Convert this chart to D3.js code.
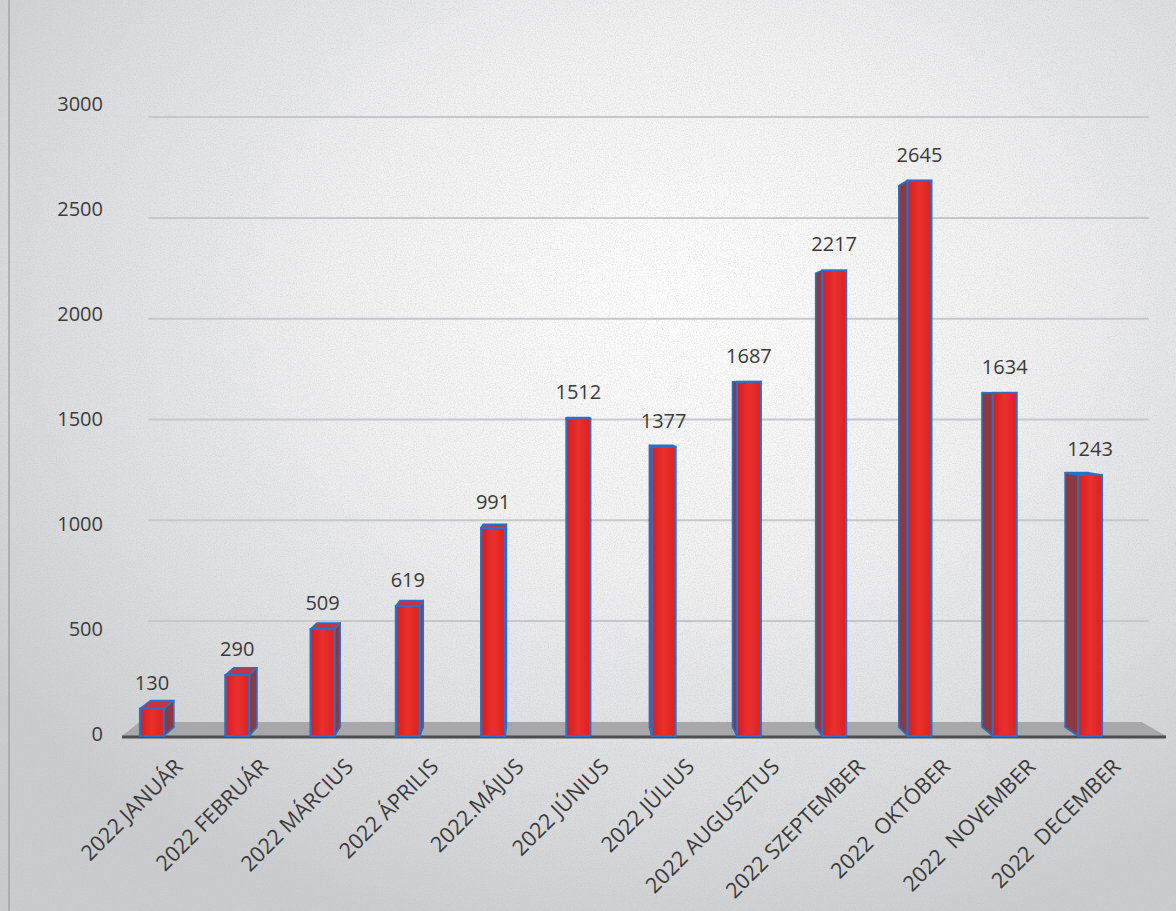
<!DOCTYPE html>
<html>
<head>
<meta charset="utf-8">
<script src="https://cdn.jsdelivr.net/npm/d3@7"></script>
<style>
html,body{margin:0;padding:0;background:#fff;}
svg{display:block;}
text{font-family:"Open Sans","Liberation Sans",sans-serif;}
</style>
</head>
<body>
<svg id="chart" width="1176" height="911"></svg>
<script>
const categories = ["2022 JANUÁR","2022 FEBRUÁR","2022 MÁRCIUS","2022 ÁPRILIS","2022.MÁJUS","2022 JÚNIUS","2022 JÚLIUS","2022 AUGUSZTUS","2022 SZEPTEMBER","2022  OKTÓBER","2022  NOVEMBER","2022  DECEMBER"];
const values = [130, 290, 509, 619, 991, 1512, 1377, 1687, 2217, 2645, 1634, 1243];
const yTicks = [0, 500, 1000, 1500, 2000, 2500, 3000];

const W = 1176, H = 911;
const svg = d3.select("#chart");
const defs = svg.append("defs");

// background
const bg = defs.append("radialGradient").attr("id","bg").attr("cx","0.58").attr("cy","0.33").attr("r","0.72");
bg.append("stop").attr("offset","0").attr("stop-color","#ffffff");
bg.append("stop").attr("offset","0.4").attr("stop-color","#f1f1f2");
bg.append("stop").attr("offset","0.8").attr("stop-color","#d9dadc");
bg.append("stop").attr("offset","1").attr("stop-color","#cbcccf");
const noise = defs.append("filter").attr("id","noise").attr("x",0).attr("y",0).attr("width","100%").attr("height","100%");
noise.append("feTurbulence").attr("type","fractalNoise").attr("baseFrequency","0.85").attr("numOctaves",2).attr("seed",3).attr("result","t");
noise.append("feColorMatrix").attr("in","t").attr("type","matrix")
  .attr("values","0 0 0 0 0.5  0 0 0 0 0.5  0 0 0 0 0.5  0 0 0 -1.6 0.95");
svg.append("rect").attr("width",W).attr("height",H).attr("fill","url(#bg)");
svg.append("rect").attr("width",W).attr("height",H).attr("filter","url(#noise)").attr("opacity",0.45);
svg.append("line").attr("x1",9).attr("x2",9).attr("y1",0).attr("y2",H).attr("stroke","#a4a4a6").attr("stroke-width",1.5);

// scales (front plane)
const x = d3.scalePoint().domain(categories).range([152, 1090]);
const y = d3.scaleLinear().domain([0, 3000]).range([736, 106]);
const vp = {x: 560, y: 383};
const proj = (px, py, s) => [vp.x + (px - vp.x) * s, vp.y + (py - vp.y) * s];
const sFloor = 0.96, sBar = 0.975;
const barW = x.step() * 0.28;

// back wall gridlines
const gx0 = proj(125, 0, sFloor)[0] + 6, gx1 = proj(1165, 0, sFloor)[0] + 8;
svg.append("g").selectAll("line").data(yTicks.filter(d => d > 0)).join("line")
  .attr("x1", gx0).attr("x2", gx1)
  .attr("y1", d => proj(0, y(d), sFloor)[1]).attr("y2", d => proj(0, y(d), sFloor)[1])
  .attr("stroke", "#c6c7c9").attr("stroke-width", 2);

// floor
const y0 = y(0);
const fl = [[122, y0], [1166, y0], proj(1166, y0, sFloor), proj(122, y0, sFloor)];
svg.append("polygon").attr("points", fl.map(p => p.join(",")).join(" "))
  .attr("fill", "#a8a8aa");
svg.append("line").attr("x1", 122).attr("x2", 1166).attr("y1", y0 + 1).attr("y2", y0 + 1)
  .attr("stroke", "#4d4d4f").attr("stroke-width", 3);

// y axis labels
svg.append("g").selectAll("text").data(yTicks).join("text")
  .attr("x", 103).attr("y", d => y(d) - 2).attr("dy", "0.35em")
  .attr("text-anchor", "end").attr("font-size", 20).attr("fill", "#3c3c3c")
  .text(d => d);

// bars
const fg = defs.append("linearGradient").attr("id","front").attr("x1",0).attr("x2",1).attr("y1",0).attr("y2",0);
fg.append("stop").attr("offset","0").attr("stop-color","#d81d1f");
fg.append("stop").attr("offset","0.5").attr("stop-color","#e8302c");
fg.append("stop").attr("offset","1").attr("stop-color","#dc2222");
const blue = "#2e6fc4";
const bars = svg.append("g");
categories.forEach((c, i) => {
  const v = values[i];
  const cx = x(c);
  const xl = cx - barW / 2, xr = cx + barW / 2, yt = y(v), yb = y(0);
  const g = bars.append("g");
  const btl = proj(xl, yt, sBar), btr = proj(xr, yt, sBar), bbl = proj(xl, yb, sBar), bbr = proj(xr, yb, sBar);
  let side;
  if (btr[0] > xr + 0.5) side = [[xr, yt], btr, bbr, [xr, yb]];
  else if (btl[0] < xl - 0.5) side = [[xl, yt], btl, bbl, [xl, yb]];
  if (side) g.append("polygon").attr("points", side.map(p => p.join(",")).join(" "))
    .attr("fill", "#8a3a40").attr("stroke", blue).attr("stroke-width", 1.6).attr("stroke-linejoin", "round");
  if (btl[1] < yt - 0.5) {
    const top = [[xl, yt], [xr, yt], btr, btl];
    g.append("polygon").attr("points", top.map(p => p.join(",")).join(" "))
      .attr("fill", "#c8343a").attr("stroke", blue).attr("stroke-width", 1.6).attr("stroke-linejoin", "round");
  }
  g.append("rect").attr("x", xl).attr("y", yt).attr("width", barW).attr("height", yb - yt)
    .attr("fill", "url(#front)").attr("stroke", blue).attr("stroke-width", 2.2);
  svg.append("text").attr("x", cx).attr("y", yt - 19).attr("text-anchor", "middle")
    .attr("font-size", 20).attr("fill", "#3a3a3a").text(v);
});

// x labels
svg.append("g").selectAll("text").data(categories).join("text")
  .attr("transform", d => `translate(${x(d) + 32},${768}) rotate(-45)`)
  .attr("text-anchor", "end").attr("font-size", 21.5).attr("fill", "#3a3a3a")
  .style("white-space", "pre")
  .text(d => d);
</script>
</body>
</html>
